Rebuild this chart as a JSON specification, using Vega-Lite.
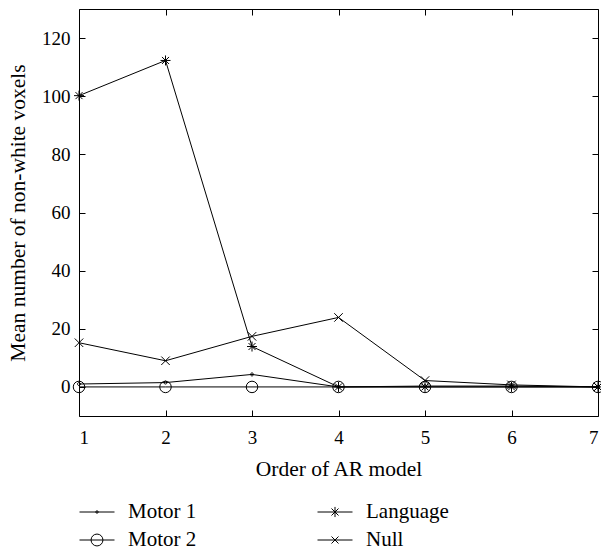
{
  "$schema": "https://vega.github.io/schema/vega-lite/v6.json",
  "width": 519,
  "height": 407,
  "autosize": {"type": "none"},
  "padding": {"left": 79, "top": 9, "right": 3, "bottom": 134},
  "background": "white",
  "config": {
    "view": {"stroke": "black", "strokeWidth": 1},
    "font": "Liberation Serif",
    "axis": {"domain": false, "grid": false, "tickColor": "black", "tickSize": -6, "labelColor": "black", "titleColor": "black", "labelFont": "Liberation Serif", "titleFont": "Liberation Serif", "labelFontSize": 19, "titleFontSize": 21.5, "titleFontWeight": "normal"}
  },
  "data": {"values": [
    {"order": 1, "series": "Motor 1", "value": 1.0},
    {"order": 2, "series": "Motor 1", "value": 1.5},
    {"order": 3, "series": "Motor 1", "value": 4.3},
    {"order": 4, "series": "Motor 1", "value": 0},
    {"order": 5, "series": "Motor 1", "value": 0.3},
    {"order": 6, "series": "Motor 1", "value": 0.3},
    {"order": 7, "series": "Motor 1", "value": 0},
    {"order": 1, "series": "Motor 2", "value": 0},
    {"order": 2, "series": "Motor 2", "value": 0},
    {"order": 3, "series": "Motor 2", "value": 0},
    {"order": 4, "series": "Motor 2", "value": 0},
    {"order": 5, "series": "Motor 2", "value": 0},
    {"order": 6, "series": "Motor 2", "value": 0},
    {"order": 7, "series": "Motor 2", "value": 0},
    {"order": 1, "series": "Language", "value": 100.2},
    {"order": 2, "series": "Language", "value": 112.3},
    {"order": 3, "series": "Language", "value": 13.9},
    {"order": 4, "series": "Language", "value": 0},
    {"order": 5, "series": "Language", "value": 0},
    {"order": 6, "series": "Language", "value": 0},
    {"order": 7, "series": "Language", "value": 0},
    {"order": 1, "series": "Null", "value": 15.2},
    {"order": 2, "series": "Null", "value": 9.0},
    {"order": 3, "series": "Null", "value": 17.4},
    {"order": 4, "series": "Null", "value": 23.9},
    {"order": 5, "series": "Null", "value": 2.2},
    {"order": 6, "series": "Null", "value": 0.7},
    {"order": 7, "series": "Null", "value": 0}
  ]},
  "layer": [
    {
      "mark": {"type": "line", "color": "black", "strokeWidth": 1},
      "encoding": {
        "x": {"field": "order", "type": "quantitative", "scale": {"domain": [1, 7], "nice": false, "zero": false}, "axis": {"orient": "bottom", "values": [1, 2, 3, 4, 5, 6, 7], "title": "Order of AR model", "labelFont": "Liberation Serif", "titleFont": "Liberation Serif", "labelPadding": 18, "titlePadding": 11}},
        "y": {"field": "value", "type": "quantitative", "scale": {"domain": [-10, 130], "nice": false}, "axis": {"orient": "left", "values": [0, 20, 40, 60, 80, 100, 120], "title": "Mean number of non-white voxels", "labelFont": "Liberation Serif", "titleFont": "Liberation Serif", "labelPadding": 15, "titlePadding": 12}},
        "detail": {"field": "series"}
      }
    },
    {
      "mark": {"type": "point", "filled": false, "stroke": "black", "strokeWidth": 1, "size": 100, "opacity": 1},
      "encoding": {
        "x": {"field": "order", "type": "quantitative", "axis": {"orient": "top", "values": [1, 2, 3, 4, 5, 6, 7], "labels": false, "title": null}},
        "y": {"field": "value", "type": "quantitative", "axis": {"orient": "right", "values": [0, 20, 40, 60, 80, 100, 120], "labels": false, "title": null}},
        "shape": {
          "field": "series", "type": "nominal",
          "scale": {
            "domain": ["Motor 1", "Motor 2", "Language", "Null"],
            "range": [
              "M-0.3,0A0.3,0.3 0 1,0 0.3,0A0.3,0.3 0 1,0 -0.3,0",
              "M-1.15,0A1.15,1.15 0 1,0 1.15,0A1.15,1.15 0 1,0 -1.15,0",
              "M-1,0L1,0M0,-1L0,1M-0.7,-0.7L0.7,0.7M-0.7,0.7L0.7,-0.7",
              "M-0.85,-0.85L0.85,0.85M-0.85,0.85L0.85,-0.85"
            ]
          },
          "legend": null
        }
      }
    },
    {
      "transform": [{"filter": "datum.order > 100"}],
      "mark": {"type": "point", "filled": false, "stroke": "black", "strokeWidth": 1},
      "encoding": {
        "x": {"field": "order", "type": "quantitative", "axis": null},
        "y": {"field": "value", "type": "quantitative", "axis": null},
        "shape": {
          "field": "series", "type": "nominal",
          "scale": {
            "domain": ["Motor 1", "Motor 2", "Language", "Null"],
            "range": [
              "M-1,0L1,0M-0.07,0A0.07,0.07 0 1,0 0.07,0A0.07,0.07 0 1,0 -0.07,0",
              "M-1,0L1,0M-0.34,0A0.34,0.34 0 1,0 0.34,0A0.34,0.34 0 1,0 -0.34,0",
              "M-1,0L1,0M0,-0.29L0,0.29M-0.2,-0.2L0.2,0.2M-0.2,0.2L0.2,-0.2",
              "M-1,0L1,0M-0.2,-0.2L0.2,0.2M-0.2,0.2L0.2,-0.2"
            ]
          },
          "legend": {
            "title": null,
            "orient": "none",
            "legendX": 0,
            "legendY": 485,
            "columns": 2,
            "columnPadding": 118,
            "rowPadding": -8,
            "symbolSize": 1225,
            "labelFont": "Liberation Serif",
            "labelFontSize": 21,
            "labelColor": "black",
            "labelOffset": 13,
            "symbolStrokeColor": "black",
            "symbolStrokeWidth": 1,
            "symbolFillColor": "transparent",
            "symbolOpacity": 1
          }
        }
      }
    }
  ],
  "resolve": {"axis": {"x": "independent", "y": "independent"}, "scale": {"shape": "independent"}}
}
